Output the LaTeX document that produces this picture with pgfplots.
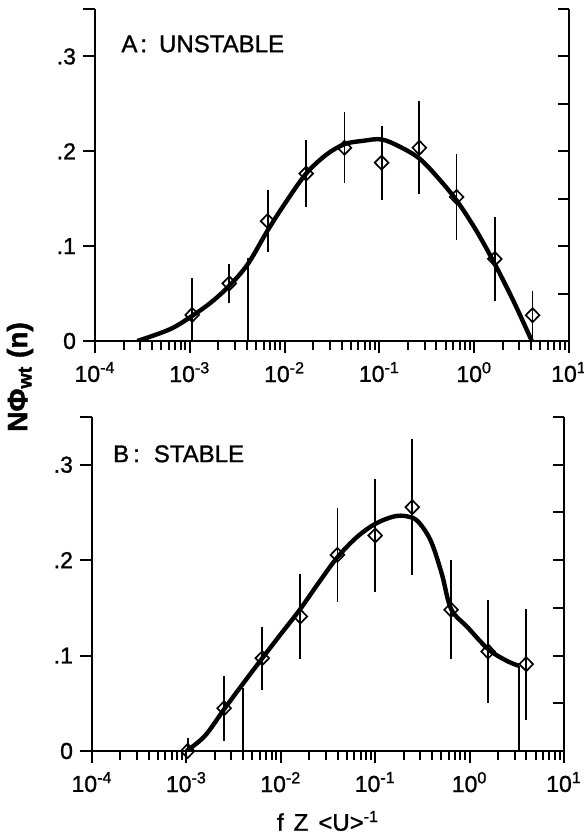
\documentclass[border=0pt]{standalone}
\usepackage{fontspec}
\setmainfont{Liberation Sans}[FakeBold=1.5]
\newfontfamily\heavy{Liberation Sans}[FakeBold=1.2]
\usepackage{pgfplots}
\pgfplotsset{compat=1.18}

\begin{document}
\begin{tikzpicture}
\useasboundingbox (-47.5pt,-246pt) rectangle (244pt,170.5pt);

% ---------- Panel A ----------
\begin{axis}[at={(0pt,0pt)}, anchor=south west,
  xmode=log, xmin=1e-4, xmax=10, ymin=0, ymax=0.35,
  scale only axis, width=237pt, height=166pt,
  axis line style={line width=1.2pt},
  clip mode=individual,
  axis x line*=bottom, axis y line*=left,
  tick align=outside,
  tick style={line width=1pt, black},
  xtick={1e-4,1e-3,1e-2,1e-1,1,10},
  xticklabels={10\textsuperscript{-4},10\textsuperscript{-3},10\textsuperscript{-2},10\textsuperscript{-1},10\textsuperscript{0},10\textsuperscript{1}},
  minor xtick={2e-4,3e-4,4e-4,5e-4,6e-4,7e-4,8e-4,9e-4,
               2e-3,3e-3,4e-3,5e-3,6e-3,7e-3,8e-3,9e-3,
               2e-2,3e-2,4e-2,5e-2,6e-2,7e-2,8e-2,9e-2,
               0.2,0.3,0.4,0.5,0.6,0.7,0.8,0.9,
               2,3,4,5,6,7,8,9},
  ytick={0,0.1,0.2,0.3,0.35},
  yticklabels={0,.1,.2,.3,{}},
  major tick length=6pt, minor tick length=4.5pt,
  tick label style={font=\heavy\fontsize{11.5}{13}\selectfont},
  xticklabel style={yshift=-1pt}]
\addplot[line width=2.2pt, black, smooth, tension=0.55, no marks] coordinates {
 (2.8e-4,0) (6.18e-4,0.0124) (1.06e-3,0.0265) (1.67e-3,0.0406)
 (2.61e-3,0.0582) (4.10e-3,0.0812) (6.62e-3,0.1165) (1.057e-2,0.148)
 (1.69e-2,0.1765) (2.72e-2,0.196) (4.28e-2,0.2075) (6.71e-2,0.211)
 (0.1054,0.2125) (0.165,0.2047) (0.264,0.1924) (0.407,0.173)
 (0.652,0.1482) (1.05,0.1165) (1.648,0.0812) (2.588,0.0424) (4.055,0)
};
\addplot[line width=0.9pt, black, no marks] coordinates {(4.1e-3,0) (4.1e-3,0.088)};
\addplot[only marks, mark=diamond, mark size=3.5pt,
   mark options={fill=none, draw=black, line width=0.85pt, xscale=1.3},
   error bars/.cd, y dir=both, y explicit,
   error mark=none, error bar style={line width=0.9pt, black}]
 coordinates {
 (1.06e-3,0.0275) += (0,0.039) -= (0,0.0275)
 (2.61e-3,0.0607) +- (0,0.0205)
 (6.62e-3,0.1264) +- (0,0.033)
 (1.69e-2,0.1765) +- (0,0.035)
 (4.28e-2,0.2037) +- (0,0.0376)
 (0.1055,0.188) +- (0,0.039)
 (0.264,0.2037) +- (0,0.049)
 (0.652,0.1518) +- (0,0.045)
 (1.65,0.0865) +- (0,0.0445)
 (4.13,0.0272) += (0,0.026) -= (0,0.0272)
};
\node[anchor=base west, inner sep=0, font=\heavy\fontsize{12}{14}\selectfont]
  at (rel axis cs:0.055,0.870) {A\hspace{1.5pt}:\hspace{6pt}UNSTABLE};
\end{axis}
\begin{axis}[at={(0pt,0pt)}, anchor=south west,
  xmode=log, xmin=1e-4, xmax=10, ymin=0, ymax=0.35,
  scale only axis, width=237pt, height=166pt,
  axis line style={line width=1.2pt},
  tick style={line width=1pt, black},
  axis y line*=right, axis x line=none,
  ytick={0.05,0.1,0.15,0.2,0.25,0.3,0.35},
  yticklabels={},
  tick align=inside,
  major tick length=5.5pt]
\addplot[draw=none] coordinates {(1,0.1)};
\end{axis}

% ---------- Panel B ----------
\begin{axis}[at={(-1.5pt,-205pt)}, anchor=south west,
  xmode=log, xmin=1e-4, xmax=10, ymin=0, ymax=0.35,
  scale only axis, width=236pt, height=167pt,
  axis line style={line width=1.2pt},
  clip mode=individual,
  axis x line*=bottom, axis y line*=left,
  tick align=outside,
  tick style={line width=1pt, black},
  xtick={1e-4,1e-3,1e-2,1e-1,1,10},
  xticklabels={10\textsuperscript{-4},10\textsuperscript{-3},10\textsuperscript{-2},10\textsuperscript{-1},10\textsuperscript{0},10\textsuperscript{1}},
  minor xtick={2e-4,3e-4,4e-4,5e-4,6e-4,7e-4,8e-4,9e-4,
               2e-3,3e-3,4e-3,5e-3,6e-3,7e-3,8e-3,9e-3,
               2e-2,3e-2,4e-2,5e-2,6e-2,7e-2,8e-2,9e-2,
               0.2,0.3,0.4,0.5,0.6,0.7,0.8,0.9,
               2,3,4,5,6,7,8,9},
  ytick={0,0.1,0.2,0.3,0.35},
  yticklabels={0,.1,.2,.3,{}},
  major tick length=6pt, minor tick length=4.5pt,
  tick label style={font=\heavy\fontsize{11.5}{13}\selectfont},
  xticklabel style={yshift=-1pt},
  xlabel={f\hspace{5pt}Z\hspace{5pt}<U>\textsuperscript{-1}},
  xlabel style={at={(axis description cs:0.5,0)}, anchor=center, yshift=-35pt,
    font=\heavy\fontsize{12}{14}\selectfont}]
\addplot[line width=2.2pt, black, smooth, tension=0.55, no marks] coordinates {
 (1.0e-3,0) (1.57e-3,0.0158) (2.51e-3,0.0438) (3.94e-3,0.070)
 (6.37e-3,0.0973) (1.0e-2,0.1225) (1.61e-2,0.1488) (2.54e-2,0.1768)
 (3.98e-2,0.203) (6.37e-2,0.224) (0.1,0.238) (0.157,0.2457)
 (0.215,0.246) (0.282,0.2408) (0.387,0.2205) (0.508,0.1855)
 (0.637,0.1488) (0.955,0.1295) (1.57,0.1068) (2.47,0.0945) (3.33,0.0893)
};
\addplot[line width=0.9pt, black, no marks] coordinates {(3.94e-3,0) (3.94e-3,0.0665)};
\addplot[line width=0.9pt, black, no marks] coordinates {(3.33,0) (3.33,0.089)};
\addplot[only marks, mark=diamond, mark size=3.5pt,
   mark options={fill=none, draw=black, line width=0.85pt, xscale=1.3},
   error bars/.cd, y dir=both, y explicit,
   error mark=none, error bar style={line width=0.9pt, black}]
 coordinates {
 (1.03e-3,0.0) += (0,0.014) -= (0,0)
 (2.51e-3,0.0448) +- (0,0.034)
 (6.37e-3,0.0973) +- (0,0.033)
 (1.61e-2,0.141) +- (0,0.045)
 (3.98e-2,0.2055) +- (0,0.0495)
 (0.100,0.2258) +- (0,0.0595)
 (0.247,0.2555) +- (0,0.0715)
 (0.637,0.148) +- (0,0.052)
 (1.57,0.1043) +- (0,0.054)
 (3.98,0.091) +- (0,0.058)
};
\node[anchor=base west, inner sep=0, font=\heavy\fontsize{12}{14}\selectfont]
  at (rel axis cs:0.044,0.865) {B\hspace{2pt}:\hspace{7pt}STABLE};
\end{axis}
\begin{axis}[at={(-1.5pt,-205pt)}, anchor=south west,
  xmode=log, xmin=1e-4, xmax=10, ymin=0, ymax=0.35,
  scale only axis, width=236pt, height=167pt,
  axis line style={line width=1.2pt},
  tick style={line width=1pt, black},
  axis y line*=right, axis x line=none,
  ytick={0.05,0.1,0.15,0.2,0.25,0.3,0.35},
  yticklabels={},
  tick align=inside,
  major tick length=5.5pt]
\addplot[draw=none] coordinates {(1,0.1)};
\end{axis}

% shared y label
\node[rotate=90, font=\bfseries\fontsize{14}{16}\selectfont] at (-37.5pt,-18pt)
  {NΦ\textsubscript{wt} (n)};
\end{tikzpicture}
\end{document}
